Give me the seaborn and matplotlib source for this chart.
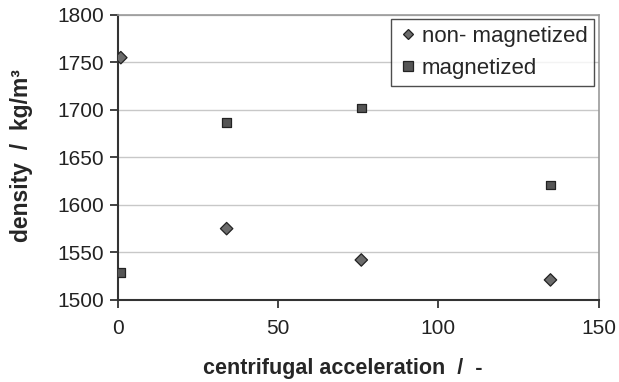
import matplotlib
matplotlib.use("Agg")
import matplotlib.pyplot as plt
import seaborn as sns
import pandas as pd

accel_non = [1, 34, 76, 135]
density_non = [1755, 1575, 1542, 1521]
accel_mag = [1, 34, 76, 135]
density_mag = [1529, 1687, 1702, 1621]
series_names = ["non- magnetized", "magnetized"]

df = pd.DataFrame({
    "accel": accel_non + accel_mag,
    "density": density_non + density_mag,
    "series": [series_names[0]] * len(accel_non) + [series_names[1]] * len(accel_mag),
})

sns.set_theme(style="white")
plt.rcParams["font.family"] = ["Liberation Sans", "DejaVu Sans"]

fig = plt.figure(figsize=(6.19, 3.82), dpi=100)
ax = fig.add_axes([0.19, 0.215, 0.777, 0.746])

sns.scatterplot(
    data=df, x="accel", y="density", hue="series", style="series",
    palette={series_names[0]: "#6b6b6b", series_names[1]: "#555555"},
    markers={series_names[0]: "D", series_names[1]: "s"},
    s=70, edgecolor="#222222", linewidth=0.9, ax=ax, zorder=3,
)
for coll, sz in zip(ax.collections, [40, 85]):
    coll.set_sizes([sz])

ax.set_xlim(0, 150)
ax.set_ylim(1500, 1800)
ax.set_xticks([0, 50, 100, 150])
ax.set_yticks([1500, 1550, 1600, 1650, 1700, 1750, 1800])
ax.yaxis.grid(True, color="#c8c8c8", linewidth=1.0)
ax.set_axisbelow(True)

for side in ["left", "bottom"]:
    ax.spines[side].set_color("#333333")
    ax.spines[side].set_linewidth(1.5)
for side in ["top", "right"]:
    ax.spines[side].set_color("#999999")
    ax.spines[side].set_linewidth(1.2)

ax.tick_params(axis="both", which="major", labelsize=15, colors="#222222",
               length=6, width=1.2, direction="out", bottom=True, left=True)
ax.tick_params(axis="x", pad=8)
ax.tick_params(axis="y", pad=4)

ax.set_xlabel("centrifugal acceleration  /  -", fontsize=15.5, fontweight="bold")
ax.xaxis.set_label_coords(0.468, -0.205)
ax.set_ylabel("density  /  kg/m³", fontsize=16.5, fontweight="bold")
ax.yaxis.set_label_coords(-0.176, 0.505)

handles, labels = ax.get_legend_handles_labels()
for h, ms in zip(handles, [5.5, 6.5]):
    h.set_markersize(ms)
leg = ax.legend(handles, labels, loc="upper right", fontsize=16, frameon=True,
                fancybox=False, edgecolor="#222222", borderpad=0.3,
                handletextpad=0.1, handlelength=1.0, borderaxespad=0.2,
                labelspacing=0.5)
leg.get_frame().set_linewidth(1.0)

fig.savefig("out.png", dpi=100)
